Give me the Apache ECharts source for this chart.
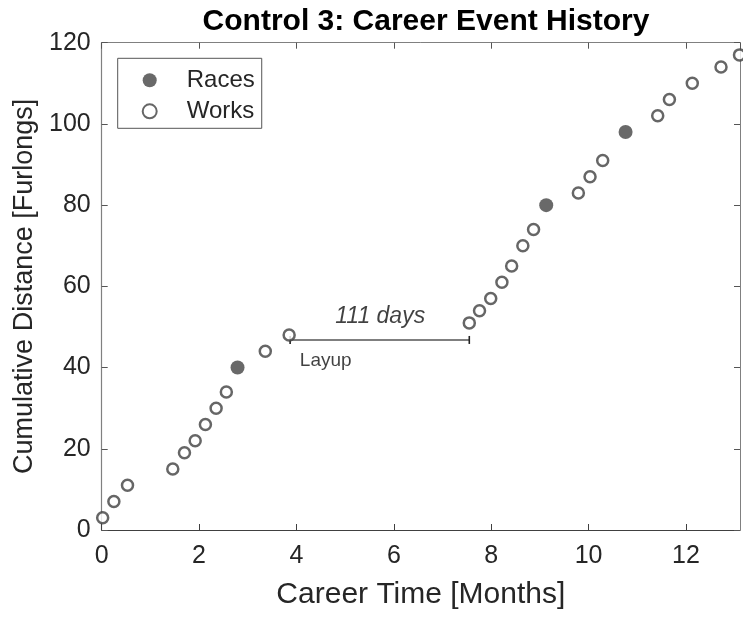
<!DOCTYPE html>
<html>
<head>
<meta charset="utf-8">
<script src="https://cdn.jsdelivr.net/npm/echarts@6/dist/echarts.min.js"></script>
<style>
  html, body { margin: 0; padding: 0; background: #fff; }
  #main { width: 743px; height: 619px; }
</style>
</head>
<body>
<div id="main"></div>
<script>
// races (filled) and works (open): [career time in months, cumulative furlongs]
var races = [[2.79, 40], [9.13, 80], [10.76, 98]];
var works = [
  [0.02, 3], [0.25, 7], [0.53, 11], [1.46, 15], [1.70, 19], [1.92, 22],
  [2.13, 26], [2.35, 30], [2.56, 34], [3.36, 44], [3.85, 48],
  [7.55, 51], [7.76, 54], [7.99, 57], [8.22, 61], [8.42, 65], [8.65, 70],
  [8.87, 74], [9.79, 83], [10.03, 87], [10.29, 91],
  [11.42, 102], [11.66, 106], [12.13, 110], [12.72, 114], [13.10, 117]
];
// layup gap line and its notes
var layupLine = [[3.87, 46.8], [7.55, 46.8]];
var layupNotes = [
  { value: [5.72, 52.6], text: '111 days', italic: true },
  { value: [4.07, 41.6], text: 'Layup', italic: false }
];
var xTicks = [0, 2, 4, 6, 8, 10, 12];
var yTicks = [0, 20, 40, 60, 80, 100, 120];

var FONT = '"Liberation Sans", Arial, Helvetica, sans-serif';
var xMax = 13.11;

var myChart = echarts.init(document.getElementById('main'));

// plain frame axes for the top and right side of the box
// (negative tick length so the ticks point into the plot)
function boxAxis(pos, isX) {
  return {
    type: 'value',
    position: pos,
    min: 0,
    max: isX ? xMax : 120,
    interval: isX ? 2 : 20,
    axisLine: { show: true, onZero: false, lineStyle: { color: '#808080', width: 1 } },
    axisTick: { show: true, length: -6, lineStyle: { color: '#555' } },
    axisLabel: { show: false },
    splitLine: { show: false }
  };
}

var option = {
  animation: false,
  backgroundColor: '#fff',
  title: {
    text: 'Control 3: Career Event History',
    left: 421,
    top: 2,
    textAlign: 'center',
    textStyle: { fontFamily: FONT, fontSize: 30, fontWeight: 'bold', color: '#000' }
  },
  grid: { left: 101.7, right: 3, top: 42.7, bottom: 89 },
  legend: {
    data: ['Races', 'Works'],
    orient: 'vertical',
    left: 117.7,
    top: 58.3,
    padding: [10, 7, 5, 24],
    itemGap: 7,
    itemWidth: 20,
    itemHeight: 14,
    backgroundColor: '#fff',
    borderColor: '#555',
    borderWidth: 1,
    borderRadius: 0,
    textStyle: { fontFamily: FONT, fontSize: 24, lineHeight: 22, color: '#262626', padding: [0, 0, 0, 22] }
  },
  xAxis: [
    {
      type: 'value',
      min: 0,
      max: xMax,
      interval: 2,
      name: 'Career Time [Months]',
      nameLocation: 'middle',
      nameGap: 50,
      nameTextStyle: { fontFamily: FONT, fontSize: 30, color: '#262626' },
      axisLine: { show: true, onZero: false, lineStyle: { color: '#404040', width: 1.2 } },
      axisTick: { show: true, length: -6, lineStyle: { color: '#404040' } },
      axisLabel: {
        fontFamily: FONT, fontSize: 25, color: '#262626', margin: 14,
        showMaxLabel: false,
        formatter: function (v) { return xTicks.indexOf(v) >= 0 ? String(v) : ''; }
      },
      splitLine: { show: false }
    },
    boxAxis('top', true)
  ],
  yAxis: [
    {
      type: 'value',
      min: 0,
      max: 120,
      interval: 20,
      name: 'Cumulative Distance [Furlongs]',
      nameLocation: 'middle',
      nameGap: 62,
      nameTextStyle: { fontFamily: FONT, fontSize: 27, color: '#262626' },
      axisLine: { show: true, onZero: false, lineStyle: { color: '#808080', width: 1.2 } },
      axisTick: { show: true, length: -6, lineStyle: { color: '#555' } },
      axisLabel: {
        fontFamily: FONT, fontSize: 25, color: '#262626', margin: 11,
        formatter: function (v) { return yTicks.indexOf(v) >= 0 ? String(v) : ''; }
      },
      splitLine: { show: false }
    },
    boxAxis('right', false)
  ],
  series: [
    {
      name: 'Layup',
      type: 'line',
      data: layupLine,
      symbol: 'rect',
      symbolSize: [1.6, 8],
      showSymbol: true,
      lineStyle: { color: '#555', width: 1.5 },
      itemStyle: { color: '#222' },
      z: 1
    },
    {
      name: 'Notes',
      type: 'scatter',
      symbolSize: 0,
      data: layupNotes.map(function (n) {
        return {
          value: n.value,
          label: {
            show: true,
            position: 'inside',
            align: n.italic ? 'center' : 'left',
            formatter: n.text,
            fontFamily: FONT,
            fontSize: n.italic ? 23 : 19,
            fontStyle: n.italic ? 'italic' : 'normal',
            color: '#111'
          }
        };
      }),
      z: 1
    },
    {
      name: 'Works',
      type: 'scatter',
      data: works,
      symbol: 'circle',
      symbolSize: 11,
      itemStyle: { color: '#fff', borderColor: '#404040', borderWidth: 2.5 },
      z: 3
    },
    {
      name: 'Races',
      type: 'scatter',
      data: races,
      symbol: 'circle',
      symbolSize: 14,
      itemStyle: { color: '#444', borderColor: '#444', borderWidth: 0 },
      z: 3
    }
  ]
};

myChart.setOption(option);
</script>
</body>
</html>
